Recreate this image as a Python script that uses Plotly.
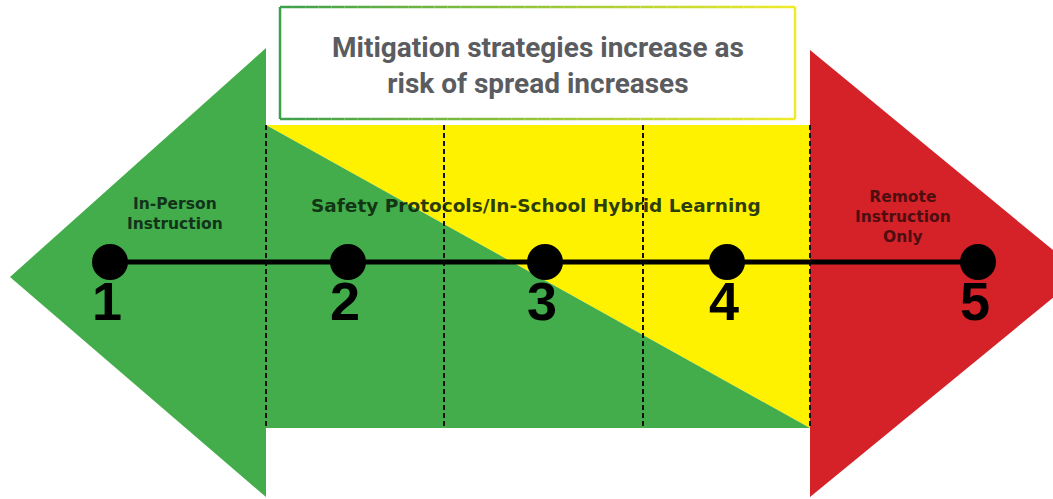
import plotly.graph_objects as go

# stages along the scale
stage_labels = ["1", "2", "3", "4", "5"]
stage_x = [110, 348, 545, 727, 978]
scale_y = 262
number_y = 306

# zone boundaries (dashed lines) and band extent
zone_x = [266, 444, 643, 810]
band_top, band_bottom = 125, 428

title_text = "Mitigation strategies increase as<br>risk of spread increases"
left_text = "In-Person<br>Instruction"
mid_text = "Safety Protocols/In-School Hybrid Learning"
right_text = "Remote<br>Instruction<br>Only"

GREEN = "#42ad4a"
YELLOW = "#fff200"
RED = "#d52229"

fig = go.Figure()

def poly(xs, ys, color):
    fig.add_trace(go.Scatter(x=xs, y=ys, mode="lines", fill="toself",
                             fillcolor=color, line=dict(width=0, color=color),
                             hoverinfo="skip", showlegend=False))

# left green arrow head
poly([266, 10, 266, 266], [48, 277, 497, 48], GREEN)
# centre band: yellow upper triangle, green lower triangle
poly([266, 810, 810, 266], [band_top, band_top, band_bottom, band_top], YELLOW)
poly([266, 810, 266, 266], [band_top, band_bottom, band_bottom, band_top], GREEN)
# right red arrow head (tip runs past the edge)
poly([810, 1082, 810, 810], [50, 274, 497, 50], RED)

# dashed zone separators
for zx in zone_x:
    fig.add_trace(go.Scatter(x=[zx, zx], y=[band_top, band_bottom], mode="lines",
                             line=dict(color="#111", width=2, dash="5px,3px"),
                             hoverinfo="skip", showlegend=False))

# main scale line and stage dots
fig.add_trace(go.Scatter(x=[stage_x[0], stage_x[-1]], y=[scale_y, scale_y], mode="lines",
                         line=dict(color="black", width=5), hoverinfo="skip", showlegend=False))
fig.add_trace(go.Scatter(x=stage_x, y=[scale_y] * len(stage_x), mode="markers",
                         marker=dict(size=36, color="black"),
                         hoverinfo="skip", showlegend=False))
fig.add_trace(go.Scatter(x=[x - 3 for x in stage_x], y=[number_y] * len(stage_x), mode="text",
                         text=stage_labels, textposition="middle center",
                         textfont=dict(family="Liberation Sans, Arial", size=54, color="black",
                                       weight="bold"),
                         hoverinfo="skip", showlegend=False))

# title box with green-to-yellow gradient border
bx0, bx1, by0, by1 = 280, 795, 7, 119
n = 40
def mix(t):
    c0 = (60, 160, 75)
    c1 = (240, 235, 40)
    return "rgb(%d,%d,%d)" % tuple(int(a + (b - a) * t) for a, b in zip(c0, c1))
for i in range(n):
    t0, t1 = i / n, (i + 1) / n
    xa, xb = bx0 + (bx1 - bx0) * t0, bx0 + (bx1 - bx0) * t1
    col = mix((t0 + t1) / 2)
    for yy in (by0, by1):
        fig.add_shape(type="line", x0=xa, x1=xb, y0=yy, y1=yy, line=dict(color=col, width=2.5))
fig.add_shape(type="line", x0=bx0, x1=bx0, y0=by0, y1=by1, line=dict(color=mix(0), width=2.5))
fig.add_shape(type="line", x0=bx1, x1=bx1, y0=by0, y1=by1, line=dict(color=mix(1), width=2.5))

fig.add_annotation(x=538, y=65, text=title_text, showarrow=False, align="center",
                   font=dict(family="Roboto", size=28, color="#5a5c60", weight="bold"))
fig.add_annotation(x=175, y=214, text=left_text, showarrow=False,
                   font=dict(family="DejaVu Sans", size=15.5, color="#12331a", weight="bold"),
                   align="center")
fig.add_annotation(x=536, y=205, text=mid_text, showarrow=False,
                   font=dict(family="DejaVu Sans", size=18.5, color="rgba(12,36,12,0.88)", weight="bold"),
                   align="center")
fig.add_annotation(x=903, y=217, text=right_text, showarrow=False,
                   font=dict(family="DejaVu Sans", size=15.5, color="#4e0e10", weight="bold"),
                   align="center")

fig.update_xaxes(range=[0, 1053], visible=False, fixedrange=True)
fig.update_yaxes(range=[499, 0], visible=False, fixedrange=True)
fig.update_layout(width=1053, height=499, margin=dict(l=0, r=0, t=0, b=0),
                  plot_bgcolor="white", paper_bgcolor="white", showlegend=False)

fig.write_html("out.html", config={"displayModeBar": False},
               post_script="document.body.style.margin='0px';")
